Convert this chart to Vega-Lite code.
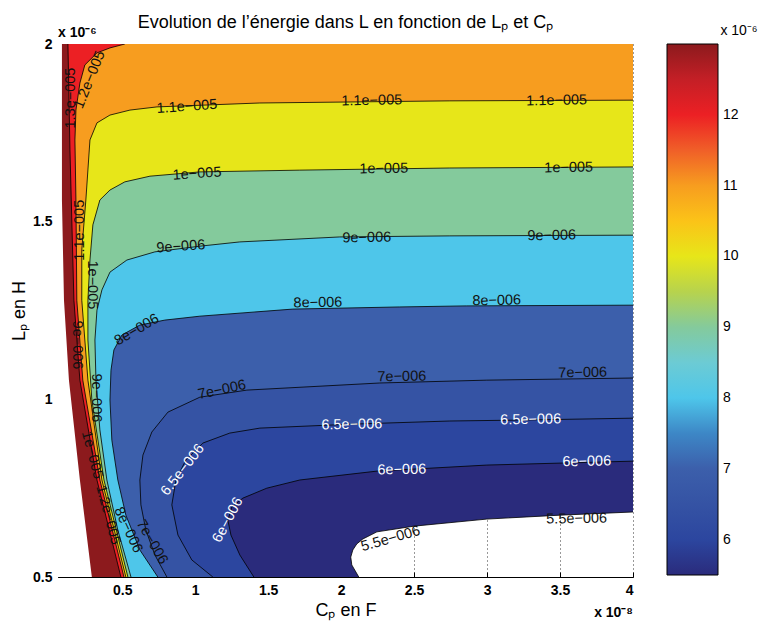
{
  "$schema": "https://vega.github.io/schema/vega-lite/v6.json",
  "width": 575,
  "height": 533,
  "autosize": "none",
  "padding": {"left": 58, "top": 44, "right": 129, "bottom": 54},
  "background": "white",
  "title": {"text": "Evolution de l’énergie dans L en fonction de Lₚ et Cₚ", "fontSize": 18, "fontWeight": "normal", "font": "Liberation Sans", "anchor": "middle", "color": "black", "offset": -8},
  "datasets": {
    "contours": [
      {"c": 5.5, "Cp": 2.121, "Lp": 0.5}, {"c": 5.5, "Cp": 2.073, "Lp": 0.534}, {"c": 5.5, "Cp": 2.066, "Lp": 0.556}, {"c": 5.5, "Cp": 2.08, "Lp": 0.576}, {"c": 5.5, "Cp": 2.107, "Lp": 0.593}, {"c": 5.5, "Cp": 2.149, "Lp": 0.607}, {"c": 5.5, "Cp": 2.245, "Lp": 0.627}, {"c": 5.5, "Cp": 2.498, "Lp": 0.643}, {"c": 5.5, "Cp": 2.998, "Lp": 0.663}, {"c": 5.5, "Cp": 3.498, "Lp": 0.674}, {"c": 5.5, "Cp": 4.0, "Lp": 0.683}, {"c": 5.5, "Cp": 4.0, "Lp": 2.0, "corner": true},
      {"c": 6, "Cp": 1.402, "Lp": 0.5}, {"c": 6, "Cp": 1.306, "Lp": 0.562}, {"c": 6, "Cp": 1.245, "Lp": 0.618}, {"c": 6, "Cp": 1.224, "Lp": 0.66}, {"c": 6, "Cp": 1.251, "Lp": 0.697}, {"c": 6, "Cp": 1.327, "Lp": 0.722}, {"c": 6, "Cp": 1.491, "Lp": 0.75}, {"c": 6, "Cp": 1.717, "Lp": 0.773}, {"c": 6, "Cp": 2.245, "Lp": 0.798}, {"c": 6, "Cp": 2.998, "Lp": 0.815}, {"c": 6, "Cp": 4.0, "Lp": 0.826}, {"c": 6, "Cp": 4.0, "Lp": 2.0, "corner": true},
      {"c": 6.5, "Cp": 1.121, "Lp": 0.5}, {"c": 6.5, "Cp": 0.977, "Lp": 0.548}, {"c": 6.5, "Cp": 0.882, "Lp": 0.618}, {"c": 6.5, "Cp": 0.84, "Lp": 0.703}, {"c": 6.5, "Cp": 0.868, "Lp": 0.773}, {"c": 6.5, "Cp": 0.936, "Lp": 0.829}, {"c": 6.5, "Cp": 1.053, "Lp": 0.877}, {"c": 6.5, "Cp": 1.237, "Lp": 0.905}, {"c": 6.5, "Cp": 1.443, "Lp": 0.919}, {"c": 6.5, "Cp": 2.06, "Lp": 0.93}, {"c": 6.5, "Cp": 2.745, "Lp": 0.939}, {"c": 6.5, "Cp": 3.292, "Lp": 0.942}, {"c": 6.5, "Cp": 4.0, "Lp": 0.947}, {"c": 6.5, "Cp": 4.0, "Lp": 2.0, "corner": true},
      {"c": 7, "Cp": 0.806, "Lp": 0.5}, {"c": 7, "Cp": 0.724, "Lp": 0.562}, {"c": 7, "Cp": 0.662, "Lp": 0.632}, {"c": 7, "Cp": 0.628, "Lp": 0.703}, {"c": 7, "Cp": 0.621, "Lp": 0.773}, {"c": 7, "Cp": 0.642, "Lp": 0.843}, {"c": 7, "Cp": 0.703, "Lp": 0.908}, {"c": 7, "Cp": 0.813, "Lp": 0.964}, {"c": 7, "Cp": 1.032, "Lp": 1.006}, {"c": 7, "Cp": 1.354, "Lp": 1.026}, {"c": 7, "Cp": 2.265, "Lp": 1.046}, {"c": 7, "Cp": 2.998, "Lp": 1.054}, {"c": 7, "Cp": 3.498, "Lp": 1.057}, {"c": 7, "Cp": 4.0, "Lp": 1.06}, {"c": 7, "Cp": 4.0, "Lp": 2.0, "corner": true},
      {"c": 8, "Cp": 0.744, "Lp": 0.5}, {"c": 8, "Cp": 0.621, "Lp": 0.576}, {"c": 8, "Cp": 0.525, "Lp": 0.674}, {"c": 8, "Cp": 0.47, "Lp": 0.773}, {"c": 8, "Cp": 0.429, "Lp": 0.885}, {"c": 8, "Cp": 0.416, "Lp": 0.998}, {"c": 8, "Cp": 0.423, "Lp": 1.082}, {"c": 8, "Cp": 0.443, "Lp": 1.139}, {"c": 8, "Cp": 0.498, "Lp": 1.181}, {"c": 8, "Cp": 0.621, "Lp": 1.209}, {"c": 8, "Cp": 0.792, "Lp": 1.223}, {"c": 8, "Cp": 1.032, "Lp": 1.234}, {"c": 8, "Cp": 1.669, "Lp": 1.254}, {"c": 8, "Cp": 2.402, "Lp": 1.26}, {"c": 8, "Cp": 2.861, "Lp": 1.263}, {"c": 8, "Cp": 4.0, "Lp": 1.265}, {"c": 8, "Cp": 4.0, "Lp": 2.0, "corner": true},
      {"c": 9, "Cp": 0.56, "Lp": 0.5}, {"c": 9, "Cp": 0.47, "Lp": 0.632}, {"c": 9, "Cp": 0.395, "Lp": 0.773}, {"c": 9, "Cp": 0.347, "Lp": 0.914}, {"c": 9, "Cp": 0.32, "Lp": 1.054}, {"c": 9, "Cp": 0.313, "Lp": 1.167}, {"c": 9, "Cp": 0.327, "Lp": 1.251}, {"c": 9, "Cp": 0.361, "Lp": 1.308}, {"c": 9, "Cp": 0.416, "Lp": 1.358}, {"c": 9, "Cp": 0.532, "Lp": 1.392}, {"c": 9, "Cp": 0.724, "Lp": 1.415}, {"c": 9, "Cp": 1.032, "Lp": 1.431}, {"c": 9, "Cp": 1.306, "Lp": 1.443}, {"c": 9, "Cp": 1.991, "Lp": 1.457}, {"c": 9, "Cp": 2.745, "Lp": 1.46}, {"c": 9, "Cp": 4.0, "Lp": 1.462}, {"c": 9, "Cp": 4.0, "Lp": 2.0, "corner": true},
      {"c": 10, "Cp": 0.539, "Lp": 0.5}, {"c": 10, "Cp": 0.375, "Lp": 0.773}, {"c": 10, "Cp": 0.292, "Lp": 0.998}, {"c": 10, "Cp": 0.265, "Lp": 1.167}, {"c": 10, "Cp": 0.265, "Lp": 1.279}, {"c": 10, "Cp": 0.279, "Lp": 1.392}, {"c": 10, "Cp": 0.299, "Lp": 1.491}, {"c": 10, "Cp": 0.347, "Lp": 1.561}, {"c": 10, "Cp": 0.416, "Lp": 1.589}, {"c": 10, "Cp": 0.518, "Lp": 1.612}, {"c": 10, "Cp": 0.69, "Lp": 1.628}, {"c": 10, "Cp": 1.032, "Lp": 1.64}, {"c": 10, "Cp": 1.717, "Lp": 1.645}, {"c": 10, "Cp": 2.745, "Lp": 1.651}, {"c": 10, "Cp": 4.0, "Lp": 1.654}, {"c": 10, "Cp": 4.0, "Lp": 2.0, "corner": true},
      {"c": 11, "Cp": 0.525, "Lp": 0.5}, {"c": 11, "Cp": 0.361, "Lp": 0.773}, {"c": 11, "Cp": 0.265, "Lp": 1.054}, {"c": 11, "Cp": 0.223, "Lp": 1.279}, {"c": 11, "Cp": 0.223, "Lp": 1.42}, {"c": 11, "Cp": 0.251, "Lp": 1.561}, {"c": 11, "Cp": 0.279, "Lp": 1.73}, {"c": 11, "Cp": 0.327, "Lp": 1.778}, {"c": 11, "Cp": 0.416, "Lp": 1.8}, {"c": 11, "Cp": 0.553, "Lp": 1.814}, {"c": 11, "Cp": 0.738, "Lp": 1.823}, {"c": 11, "Cp": 1.443, "Lp": 1.834}, {"c": 11, "Cp": 2.745, "Lp": 1.84}, {"c": 11, "Cp": 4.0, "Lp": 1.842}, {"c": 11, "Cp": 4.0, "Lp": 2.0, "corner": true},
      {"c": 12, "Cp": 0.512, "Lp": 0.5}, {"c": 12, "Cp": 0.347, "Lp": 0.773}, {"c": 12, "Cp": 0.23, "Lp": 1.054}, {"c": 12, "Cp": 0.189, "Lp": 1.279}, {"c": 12, "Cp": 0.183, "Lp": 1.561}, {"c": 12, "Cp": 0.176, "Lp": 1.73}, {"c": 12, "Cp": 0.183, "Lp": 1.814}, {"c": 12, "Cp": 0.21, "Lp": 1.89}, {"c": 12, "Cp": 0.244, "Lp": 1.941}, {"c": 12, "Cp": 0.327, "Lp": 1.975}, {"c": 12, "Cp": 0.416, "Lp": 1.989}, {"c": 12, "Cp": 0.518, "Lp": 2.0},
      {"c": 13, "Cp": 0.491, "Lp": 0.5}, {"c": 13, "Cp": 0.327, "Lp": 0.773}, {"c": 13, "Cp": 0.21, "Lp": 1.054}, {"c": 13, "Cp": 0.169, "Lp": 1.279}, {"c": 13, "Cp": 0.142, "Lp": 1.702}, {"c": 13, "Cp": 0.128, "Lp": 2.0}
    ],
    "wedge": [
      {"Cp": 0.292, "Lp": 0.5}, {"Cp": 0.21, "Lp": 0.773}, {"Cp": 0.135, "Lp": 1.054}, {"Cp": 0.101, "Lp": 1.279}, {"Cp": 0.087, "Lp": 1.561}, {"Cp": 0.087, "Lp": 2.0}
    ],
    "labels": [
      {"t": "1.1e−005", "c": 11, "Cp": 2.21, "Lp": 1.84, "dir": "h"},
      {"t": "1.1e−005", "c": 11, "Cp": 3.477, "Lp": 1.84, "dir": "h"},
      {"t": "1.1e−005", "c": 11, "Cp": 0.944, "Lp": 1.823, "dir": "t1"},
      {"t": "1e−005", "c": 10, "Cp": 1.013, "Lp": 1.634, "dir": "t1"},
      {"t": "1e−005", "c": 10, "Cp": 2.292, "Lp": 1.648, "dir": "h"},
      {"t": "1e−005", "c": 10, "Cp": 3.559, "Lp": 1.651, "dir": "h"},
      {"t": "9e−006", "c": 9, "Cp": 0.902, "Lp": 1.429, "dir": "t1"},
      {"t": "9e−006", "c": 9, "Cp": 2.176, "Lp": 1.454, "dir": "h"},
      {"t": "9e−006", "c": 9, "Cp": 3.443, "Lp": 1.46, "dir": "h"},
      {"t": "8e−006", "c": 8, "Cp": 1.841, "Lp": 1.271, "dir": "h"},
      {"t": "8e−006", "c": 8, "Cp": 3.066, "Lp": 1.277, "dir": "h"},
      {"t": "8e−006", "c": 8, "Cp": 0.601, "Lp": 1.195, "dir": "d"},
      {"t": "7e−006", "c": 7, "Cp": 1.184, "Lp": 1.026, "dir": "t2"},
      {"t": "7e−006", "c": 7, "Cp": 2.416, "Lp": 1.063, "dir": "h"},
      {"t": "7e−006", "c": 7, "Cp": 3.655, "Lp": 1.074, "dir": "h"},
      {"t": "6.5e−006", "c": 6.5, "Cp": 2.073, "Lp": 0.928, "dir": "h"},
      {"t": "6.5e−006", "c": 6.5, "Cp": 3.299, "Lp": 0.942, "dir": "h"},
      {"t": "6.5e−006", "c": 6.5, "Cp": 0.916, "Lp": 0.801, "dir": "s1"},
      {"t": "6e−006", "c": 6, "Cp": 2.416, "Lp": 0.801, "dir": "h"},
      {"t": "6e−006", "c": 6, "Cp": 3.683, "Lp": 0.824, "dir": "h"},
      {"t": "6e−006", "c": 6, "Cp": 1.225, "Lp": 0.66, "dir": "s2"},
      {"t": "5.5e−006", "c": 5.5, "Cp": 3.614, "Lp": 0.663, "dir": "h"},
      {"t": "5.5e−006", "c": 5.5, "Cp": 2.34, "Lp": 0.607, "dir": "t3"},
      {"t": "1.3e−005", "c": 13, "Cp": 0.149, "Lp": 1.848, "dir": "v"},
      {"t": "1.2e−005", "c": 12, "Cp": 0.279, "Lp": 1.899, "dir": "u"},
      {"t": "1.1e−005", "c": 11, "Cp": 0.21, "Lp": 1.476, "dir": "v"},
      {"t": "1e−005", "c": 10, "Cp": 0.293, "Lp": 1.322, "dir": "vr"},
      {"t": "9e−006", "c": 9, "Cp": 0.19, "Lp": 1.153, "dir": "vr"},
      {"t": "9e−006", "c": 9, "Cp": 0.32, "Lp": 1.004, "dir": "vr"},
      {"t": "1e−005", "c": 10, "Cp": 0.293, "Lp": 0.843, "dir": "r1"},
      {"t": "1.2e−005", "c": 12, "Cp": 0.402, "Lp": 0.674, "dir": "r1"},
      {"t": "8e−006", "c": 8, "Cp": 0.54, "Lp": 0.632, "dir": "r2"},
      {"t": "7e−006", "c": 7, "Cp": 0.703, "Lp": 0.598, "dir": "r3"}
    ],
    "notes": [
      {"t": "x 10⁻⁶", "where": "y", "Cp": 0.06, "Lp": 2.0},
      {"t": "x 10⁻⁸", "where": "x", "Cp": 4.0, "Lp": 0.5}
    ]
  },
  "encoding": {
    "x": {"field": "Cp", "type": "quantitative", "scale": {"domain": [0.06, 4], "nice": false, "zero": false}, "axis": {"title": "Cₚ en F", "values": [0.5, 1, 1.5, 2, 2.5, 3, 3.5, 4], "format": "~g"}},
    "y": {"field": "Lp", "type": "quantitative", "scale": {"domain": [0.5, 2], "nice": false, "zero": false}, "axis": {"title": "Lₚ en H", "values": [0.5, 1, 1.5, 2], "format": "~g"}}
  },
  "layer": [
    {
      "data": {"name": "contours"},
      "encoding": {
        "x2": {"datum": 0.06},
        "color": {"field": "c", "type": "quantitative",
          "scale": {"domain": [5.5, 6, 6.5, 7, 7.5, 8, 8.5, 9, 9.5, 10, 10.5, 11, 11.5, 12, 12.5, 13],
                    "range": ["#2a2b7c", "#2c469f", "#3553a4", "#3c5fab", "#3d87c6", "#4ec6ea", "#6ccbd4", "#84ca9c", "#b7d34d", "#e7e619", "#fbc318", "#f79d1f", "#f05f28", "#ec2024", "#c41f26", "#8c1a1d"]},
          "legend": {"orient": "none", "legendX": 609, "legendY": -20, "direction": "vertical", "gradientLength": 531, "gradientThickness": 51, "values": [6, 7, 8, 9, 10, 11, 12], "format": "~g", "labelFontSize": 14, "labelFont": "Liberation Sans", "labelColor": "black", "labelOffset": 5, "title": "x 10⁻⁶", "titleFontSize": 14, "titleFontWeight": "normal", "titleFont": "Liberation Sans", "titleColor": "black", "titleAnchor": "end", "titleAlign": "center", "titlePadding": 6, "gradientStrokeColor": "black", "gradientStrokeWidth": 1, "padding": 0}}
      },
      "layer": [
        {"transform": [{"filter": "datum.c == 5.5"}], "mark": {"type": "area", "orient": "horizontal", "clip": true}},
        {"transform": [{"filter": "datum.c == 6"}], "mark": {"type": "area", "orient": "horizontal", "clip": true}},
        {"transform": [{"filter": "datum.c == 6.5"}], "mark": {"type": "area", "orient": "horizontal", "clip": true}},
        {"transform": [{"filter": "datum.c == 7"}], "mark": {"type": "area", "orient": "horizontal", "clip": true}},
        {"transform": [{"filter": "datum.c == 8"}], "mark": {"type": "area", "orient": "horizontal", "clip": true}},
        {"transform": [{"filter": "datum.c == 9"}], "mark": {"type": "area", "orient": "horizontal", "clip": true}},
        {"transform": [{"filter": "datum.c == 10"}], "mark": {"type": "area", "orient": "horizontal", "clip": true}},
        {"transform": [{"filter": "datum.c == 11"}], "mark": {"type": "area", "orient": "horizontal", "clip": true}},
        {"transform": [{"filter": "datum.c == 12"}], "mark": {"type": "area", "orient": "horizontal", "clip": true}},
        {"transform": [{"filter": "datum.c == 13"}], "mark": {"type": "area", "orient": "horizontal", "clip": true}}
      ]
    },
    {
      "data": {"name": "wedge"},
      "mark": {"type": "area", "orient": "horizontal", "color": "white", "clip": true},
      "encoding": {"x2": {"datum": 0.06}}
    },
    {
      "data": {"name": "contours"},
      "transform": [{"filter": "!datum.corner"}],
      "mark": {"type": "line", "color": "black", "strokeWidth": 0.8, "clip": true},
      "encoding": {"detail": {"field": "c"}, "order": {"field": "Lp", "type": "quantitative"}}
    },
    {
      "data": {"name": "labels"},
      "encoding": {
        "text": {"field": "t"},
        "fill": {"condition": {"test": "datum.c == 6 || datum.c == 6.5", "value": "white"}, "value": "#111111"}
      },
      "layer": [
        {"transform": [{"filter": "datum.dir == 'h'"}], "mark": {"type": "text", "angle": 359}},
        {"transform": [{"filter": "datum.dir == 't1'"}], "mark": {"type": "text", "angle": 356}},
        {"transform": [{"filter": "datum.dir == 't2'"}], "mark": {"type": "text", "angle": 348}},
        {"transform": [{"filter": "datum.dir == 't3'"}], "mark": {"type": "text", "angle": 344}},
        {"transform": [{"filter": "datum.dir == 'd'"}], "mark": {"type": "text", "angle": 330}},
        {"transform": [{"filter": "datum.dir == 's1'"}], "mark": {"type": "text", "angle": 308}},
        {"transform": [{"filter": "datum.dir == 's2'"}], "mark": {"type": "text", "angle": 298}},
        {"transform": [{"filter": "datum.dir == 'u'"}], "mark": {"type": "text", "angle": 292}},
        {"transform": [{"filter": "datum.dir == 'v'"}], "mark": {"type": "text", "angle": 270}},
        {"transform": [{"filter": "datum.dir == 'vr'"}], "mark": {"type": "text", "angle": 90}},
        {"transform": [{"filter": "datum.dir == 'r1'"}], "mark": {"type": "text", "angle": 75}},
        {"transform": [{"filter": "datum.dir == 'r2'"}], "mark": {"type": "text", "angle": 65}},
        {"transform": [{"filter": "datum.dir == 'r3'"}], "mark": {"type": "text", "angle": 60}}
      ]
    },
    {
      "data": {"values": [{}]},
      "mark": {"type": "rule", "color": "black", "strokeWidth": 1},
      "encoding": {"x": {"datum": 0.06}, "x2": {"datum": 4}, "y": {"datum": 2}}
    },
    {
      "data": {"values": [{}]},
      "mark": {"type": "rule", "color": "black", "strokeWidth": 1},
      "encoding": {"x": {"datum": 4}, "y": {"datum": 0.5}, "y2": {"datum": 2}}
    },
    {
      "data": {"name": "notes"},
      "transform": [{"filter": "datum.where == 'y'"}],
      "mark": {"type": "text", "font": "Liberation Sans", "fontSize": 14, "fontWeight": "bold", "align": "left", "baseline": "alphabetic", "dy": -7, "fill": "black"},
      "encoding": {"text": {"field": "t"}}
    },
    {
      "data": {"name": "notes"},
      "transform": [{"filter": "datum.where == 'x'"}],
      "mark": {"type": "text", "font": "Liberation Sans", "fontSize": 14, "fontWeight": "bold", "align": "right", "baseline": "alphabetic", "dy": 40, "fill": "black"},
      "encoding": {"text": {"field": "t"}}
    }
  ],
  "config": {
    "view": {"stroke": null},
    "text": {"font": "Liberation Sans", "fontSize": 14.5, "baseline": "middle", "align": "center"},
    "axis": {"labelFont": "Liberation Sans", "labelFontSize": 14, "labelFontWeight": "bold", "labelColor": "black", "tickColor": "black", "domainColor": "black", "tickSize": -5, "labelPadding": 11, "titleFont": "Liberation Sans", "titleFontSize": 18, "titleFontWeight": "normal", "titleColor": "black", "titlePadding": 4, "grid": true, "gridColor": "black", "gridDash": [1, 3], "gridOpacity": 0.8, "zindex": 1}
  }
}
